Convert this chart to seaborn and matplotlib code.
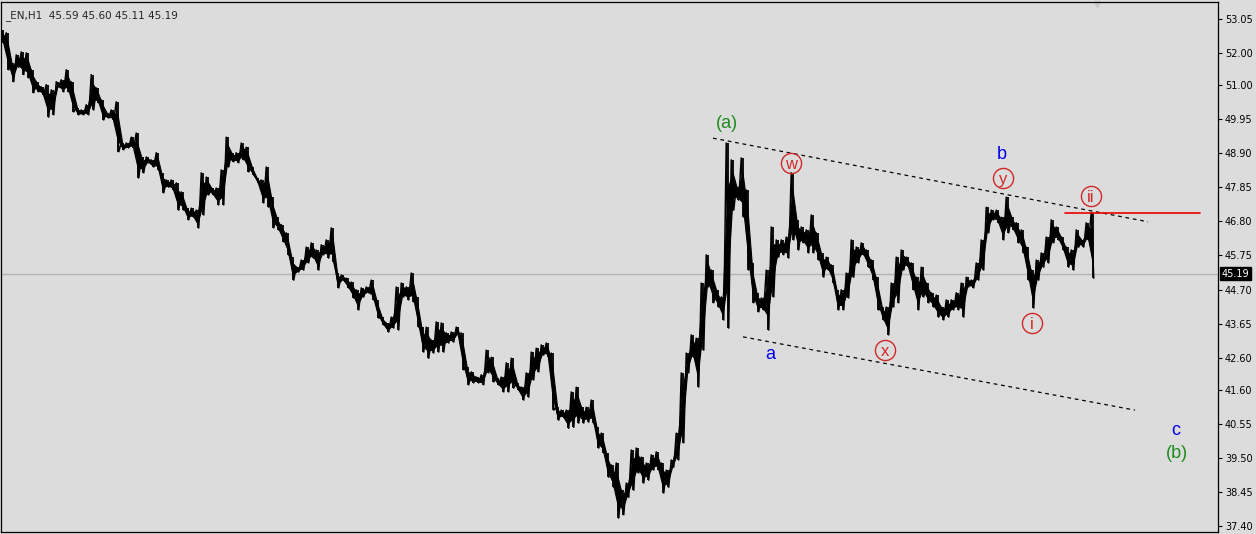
import numpy as np
import matplotlib
matplotlib.use("Agg")
import matplotlib.pyplot as plt
import seaborn as sns

# ---------- data (H1 bars, high / low per bar) ----------
bar_high = [
    52.71, 52.62, 51.69, 51.94, 52.03, 52.00, 51.48, 51.11, 50.95, 51.02,
    50.86, 51.11, 51.17, 51.48, 51.11, 50.30, 50.24, 50.40, 51.33, 50.92,
    50.55, 50.15, 50.24, 50.49, 49.22, 49.22, 49.40, 49.53, 48.79, 48.79,
    48.70, 48.92, 48.30, 48.08, 48.08, 47.99, 47.71, 47.21, 47.21, 47.15,
    48.30, 48.17, 47.83, 47.83, 48.39, 49.40, 48.92, 48.92, 49.22, 49.09,
    48.48, 48.14, 48.08, 48.48, 47.55, 46.93, 46.70, 46.45, 45.70, 45.39,
    45.61, 46.01, 46.14, 45.92, 46.08, 46.23, 46.60, 45.21, 45.15, 45.05,
    44.93, 44.69, 44.75, 44.78, 44.99, 44.38, 43.85, 43.67, 43.85, 44.78,
    44.90, 44.78, 45.21, 44.47, 43.54, 43.54, 43.14, 43.70, 43.67, 43.36,
    43.39, 43.54, 43.36, 42.31, 42.16, 42.00, 42.07, 42.83, 42.61, 41.97,
    42.00, 42.44, 42.58, 41.82, 41.69, 42.13, 42.77, 42.89, 42.99, 43.05,
    42.74, 41.07, 40.98, 40.98, 41.54, 41.69, 41.07, 41.07, 41.29, 40.45,
    40.27, 39.66, 39.29, 39.35, 38.51, 38.73, 39.75, 39.81, 39.53, 39.35,
    39.60, 39.69, 39.35, 39.13, 39.44, 40.27, 42.13, 42.74, 43.30, 43.20,
    44.90, 45.77, 45.30, 44.69, 44.47, 49.22, 48.70, 47.86, 48.76, 47.77,
    45.52, 44.60, 44.44, 45.30, 46.63, 46.23, 46.23, 46.32, 48.30, 46.85,
    46.63, 46.54, 47.00, 46.45, 45.83, 45.70, 45.46, 44.69, 44.69, 45.21,
    46.23, 46.01, 46.14, 45.92, 45.61, 45.08, 44.16, 44.16, 44.90, 45.70,
    45.92, 45.70, 45.52, 45.08, 45.39, 44.90, 44.60, 44.53, 44.16, 44.38,
    44.38, 44.60, 44.90, 45.08, 44.99, 45.52, 46.23, 47.24, 47.15, 47.15,
    46.93, 47.55, 46.93, 46.76, 46.54, 46.01, 45.30, 45.61, 45.83, 46.32,
    46.85, 46.63, 46.32, 46.01, 45.92, 46.54, 46.23, 46.76, 47.07,
]
bar_low = [
    52.31, 51.48, 51.11, 51.56, 51.33, 51.23, 50.77, 50.80, 50.71, 50.02,
    50.09, 50.95, 50.80, 50.80, 50.18, 50.09, 50.09, 50.09, 50.24, 50.46,
    49.93, 49.99, 49.93, 48.95, 49.01, 49.07, 49.07, 48.14, 48.30, 48.61,
    48.48, 48.39, 47.68, 47.86, 47.77, 47.15, 47.15, 46.85, 46.93, 46.60,
    47.00, 47.62, 47.62, 47.31, 47.31, 48.48, 48.64, 48.61, 48.70, 48.33,
    48.24, 47.99, 47.37, 47.24, 46.60, 46.54, 46.17, 45.77, 44.99, 45.24,
    45.30, 45.52, 45.67, 45.30, 45.77, 45.67, 45.55, 44.75, 44.99, 44.75,
    44.44, 44.07, 44.47, 44.60, 44.38, 43.82, 43.61, 43.39, 43.51, 43.45,
    44.47, 44.38, 44.32, 43.54, 42.77, 42.58, 42.74, 42.77, 42.77, 43.05,
    43.08, 43.30, 42.22, 41.76, 41.82, 41.82, 41.76, 42.13, 41.85, 41.76,
    41.54, 41.54, 41.66, 41.60, 41.29, 41.38, 41.91, 42.16, 42.68, 42.61,
    40.98, 40.67, 40.76, 40.42, 40.45, 40.58, 40.58, 40.61, 40.58, 39.81,
    39.66, 38.91, 38.60, 37.65, 37.75, 38.29, 38.51, 39.04, 38.73, 38.82,
    39.13, 39.13, 38.42, 38.60, 39.22, 39.44, 39.97, 42.13, 42.61, 41.69,
    42.83, 44.78, 44.29, 44.16, 43.76, 43.51, 47.15, 47.46, 46.93, 45.30,
    44.29, 44.01, 44.07, 43.45, 44.47, 45.70, 45.77, 45.67, 46.23, 45.92,
    46.14, 45.83, 45.83, 45.61, 45.08, 45.30, 44.90, 44.07, 44.07, 44.44,
    45.08, 45.52, 45.77, 45.39, 44.99, 44.07, 43.76, 43.30, 44.16, 44.29,
    45.30, 45.39, 44.69, 44.07, 44.47, 44.29, 44.16, 43.85, 43.76, 43.85,
    44.07, 44.07, 43.85, 44.78, 44.75, 44.99, 45.30, 46.45, 46.85, 46.76,
    46.23, 46.45, 46.54, 46.14, 45.83, 44.99, 44.13, 44.99, 45.39, 45.52,
    46.14, 46.23, 45.92, 45.39, 45.30, 46.01, 46.01, 46.23, 45.05,
]
last_price = 45.19
header = "_EN,H1  45.59 45.60 45.11 45.19"
price_ticks = [53.05, 52.00, 51.00, 49.95, 48.90, 47.85, 46.80, 45.75,
               44.70, 43.65, 42.60, 41.60, 40.55, 39.50, 38.45, 37.40]

# analyst lines: (bar, price) end points
upper_channel = ([142.1, 229.1], [49.37, 46.79])
lower_channel = ([148.1, 226.5], [43.24, 40.98])
level_ii = ([212.5, 239.5], 47.07)

# wave labels
plain_labels = ["(a)", "b", "a", "c", "(b)"]
plain_colors = ["#1e8c1e", "#0000ee", "#0000ee", "#0000ee", "#1e8c1e"]
plain_bars = [144.9, 199.9, 153.5, 234.7, 234.9]
plain_prices = [49.81, 48.88, 42.71, 40.36, 39.65]
circle_labels = ["w", "x", "y", "i", "ii"]
circle_bars = [157.7, 176.5, 200.1, 205.9, 217.7]
circle_prices = [48.61, 42.83, 48.14, 43.67, 47.59]

# ---------- style ----------
BG = "#dcdcdc"
RED = "#d02828"
sns.set_theme(style="white", rc={"axes.facecolor": BG, "figure.facecolor": BG})
plt.rcParams["font.family"] = ["DejaVu Sans"]

fig = plt.figure(figsize=(12.56, 5.34), dpi=100)
ax = fig.add_axes([1 / 1256, 2 / 534, 1217 / 1256, 530 / 534])

bars = np.arange(len(bar_high))
highs = np.array(bar_high)
lows = np.array(bar_low)

# price bars: vertical high-low strokes joined as a zigzag
ax.vlines(bars, lows, highs, color="black", linewidth=1.3)
zig_x = np.column_stack([bars - 0.25, bars + 0.25]).ravel()
zig_y = np.column_stack([highs, lows]).ravel()
sns.lineplot(x=zig_x, y=zig_y, sort=False, estimator=None, color="black",
             linewidth=1.1, ax=ax)
mid = (highs + lows) / 2
ax.fill_between(bars, mid - (highs - lows) * 0.25, mid + (highs - lows) * 0.25,
                color="black", linewidth=0.8)

# last price line
ax.axhline(last_price, color="#b4b4b4", linewidth=1, zorder=0)

# channel lines
for xs, ys in (upper_channel, lower_channel):
    ax.plot(xs, ys, color="black", linewidth=0.9, linestyle=(0, (3, 3)))
ax.plot(level_ii[0], [level_ii[1]] * 2, color="#ee0000", linewidth=1.2)

# labels
for txt, col, bx, py in zip(plain_labels, plain_colors, plain_bars, plain_prices):
    ax.text(bx, py, txt, color=col, fontsize=13, ha="center", va="center",
            family=["Liberation Sans", "DejaVu Sans"])
ax.plot(circle_bars, circle_prices, "o", ms=14.5, mfc="none", mec=RED, mew=1)
for txt, bx, py in zip(circle_labels, circle_bars, circle_prices):
    ax.text(bx, py - 0.04, txt, color=RED, fontsize=12, ha="center", va="center",
            family=["Liberation Sans", "DejaVu Sans"])

# axes
ax.set_xlim(-0.3, 243.1)
ax.set_ylim(37.22, 53.57)
ax.set_xticks([])
ax.yaxis.tick_right()
ax.set_yticks(price_ticks)
ax.set_yticklabels([f"{t:.2f}" for t in price_ticks])
ax.tick_params(axis="y", direction="out", length=3, width=0.8, labelsize=7,
               pad=2, colors="black", right=True)
for s in ax.spines.values():
    s.set_color("black")
    s.set_linewidth(0.9)

ax.text(4 / 1217, 0.985, header, transform=ax.transAxes, fontsize=7.5,
        ha="left", va="top")
ax.text(1.003, last_price, f"{last_price:.2f}", transform=ax.get_yaxis_transform(),
        fontsize=7, color="white", ha="left", va="center",
        bbox=dict(boxstyle="square,pad=0.15", fc="black", ec="black"))
ax.plot([218.9], [53.5], marker="v", ms=5, color="#c8c8c8", clip_on=False)

fig.savefig("out.png", dpi=100, facecolor=BG)
